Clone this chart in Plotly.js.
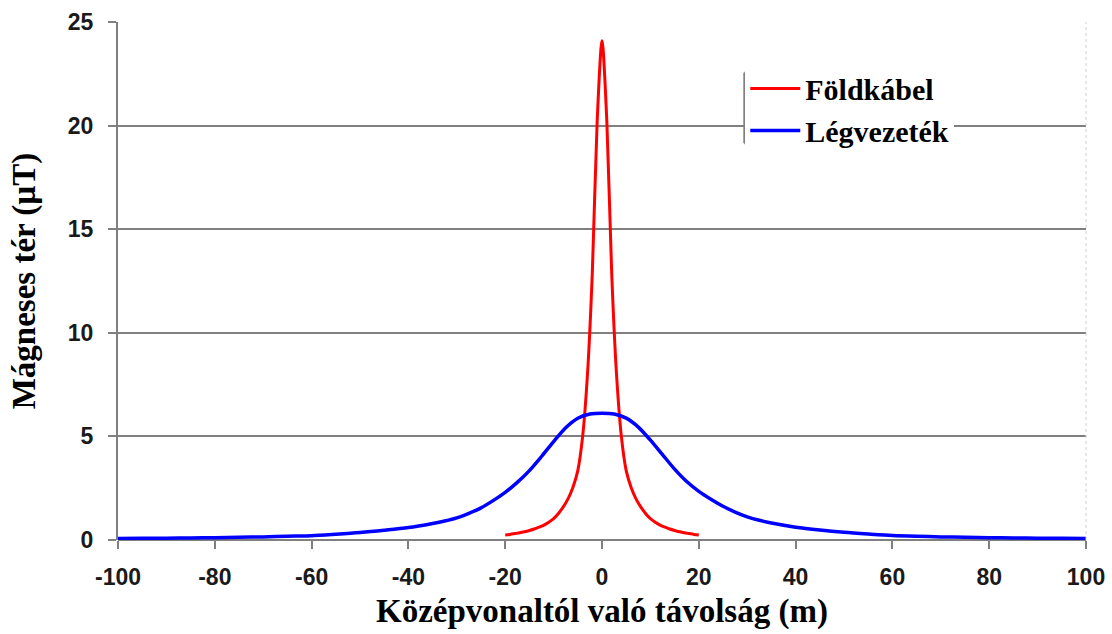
<!DOCTYPE html>
<html>
<head>
<meta charset="utf-8">
<script src="https://cdn.plot.ly/plotly-3.0.1.min.js"></script>
<style>html,body{margin:0;padding:0;background:#fff;}#chart{width:1112px;height:634px;}</style>
</head>
<body>
<div id="chart"></div>
<script>
// Földkábel (underground cable)
const cableX = [-20,-19,-18,-17,-16,-15,-14,-13,-12,-11,-10,-9,-8,-7,-6,-5,-4,-3,-2,-1,0,1,2,3,4,5,6,7,8,9,10,11,12,13,14,15,16,17,18,19,20];
const cableY = [0.24,0.27,0.31,0.35,0.4,0.46,0.53,0.62,0.72,0.86,1.03,1.28,1.6,2.0,2.55,3.35,5.0,8.0,12.9,20.2,24.1,20.2,12.9,8.0,5.0,3.35,2.55,2.0,1.6,1.28,1.03,0.86,0.72,0.62,0.53,0.46,0.4,0.35,0.31,0.27,0.24];
// Légvezeték (overhead line)
const lineX = [-100,-95,-90,-85,-80,-75,-70,-65,-60,-55,-50,-45,-40,-35,-32.5,-30,-27.5,-25,-22.5,-20,-17.5,-15,-12.5,-10,-7.5,-5,-2.5,0,2.5,5,7.5,10,12.5,15,17.5,20,22.5,25,27.5,30,32.5,35,40,45,50,55,60,65,70,75,80,85,90,95,100];
const lineY = [0.07,0.08,0.09,0.1,0.11,0.13,0.15,0.18,0.21,0.28,0.36,0.47,0.6,0.8,0.92,1.07,1.29,1.55,1.9,2.3,2.78,3.35,4.03,4.75,5.42,5.88,6.08,6.12,6.08,5.88,5.45,4.82,4.12,3.42,2.82,2.35,1.97,1.63,1.35,1.12,0.95,0.82,0.62,0.48,0.37,0.29,0.22,0.18,0.15,0.13,0.11,0.1,0.09,0.08,0.07];
const seriesNames = ['Földkábel', 'Légvezeték'];
const xTicks = [-100,-80,-60,-40,-20,0,20,40,60,80,100];
const yTicks = [0,5,10,15,20,25];

const traces = [
  {x: cableX, y: cableY, name: seriesNames[0], type: 'scatter', mode: 'lines',
   line: {color: '#ff0000', width: 3, shape: 'spline', smoothing: 0.8}},
  {x: lineX, y: lineY, name: seriesNames[1], type: 'scatter', mode: 'lines',
   line: {color: '#0000ff', width: 3.5, shape: 'spline', smoothing: 0.8}}
];

const tickFont = {family: '"Liberation Sans", Arial, sans-serif', size: 23, color: '#1a1a1a', weight: 'bold'};
const titleFont = {family: '"Liberation Serif", "Times New Roman", serif', size: 33, color: '#000', weight: 'bold'};

const layout = {
  width: 1112, height: 634,
  margin: {l: 118, r: 26, t: 22, b: 94},
  paper_bgcolor: '#fff', plot_bgcolor: '#fff',
  showlegend: true,
  legend: {
    x: 0.648, y: 0.922, xanchor: 'left', yanchor: 'top',
    bgcolor: '#ffffff', borderwidth: 0,
    font: {family: '"Liberation Serif", "Times New Roman", serif', size: 30, color: '#000', weight: 'bold'},
    itemwidth: 50, tracegroupgap: 0
  },
  xaxis: {
    range: [-100, 100], tickvals: xTicks, ticktext: xTicks.map(String),
    showgrid: false, zeroline: false,
    showline: false, ticks: 'outside', ticklen: 8, tickwidth: 2, tickcolor: '#808080',
    tickfont: tickFont, ticklabelstandoff: 8,
    title: {text: 'Középvonaltól való távolság (m)', font: titleFont, standoff: 10},
    fixedrange: true
  },
  yaxis: {
    range: [0, 25], tickvals: yTicks, ticktext: yTicks.map(String),
    showgrid: true, gridcolor: '#808080', gridwidth: 2,
    zeroline: true, zerolinecolor: '#808080', zerolinewidth: 2,
    showline: true, linecolor: '#808080', linewidth: 2,
    ticks: 'outside', ticklen: 8, tickwidth: 2, tickcolor: '#808080',
    tickfont: tickFont, ticklabelstandoff: 10,
    title: {text: 'Mágneses tér (µT)', font: titleFont, standoff: 22},
    fixedrange: true
  },
  shapes: [
    {type: 'line', xref: 'paper', yref: 'paper', x0: 1, x1: 1, y0: 0, y1: 1,
     line: {color: '#d0d0d0', width: 1, dash: 'dot'}},
    {type: 'line', xref: 'paper', yref: 'paper', x0: 0.647, x1: 0.647, y0: 0.766, y1: 0.902,
     line: {color: '#808080', width: 2}, layer: 'above'},
    {type: 'line', xref: 'paper', yref: 'paper', x0: 0.647, x1: 0.689, y0: 0.902, y1: 0.902,
     line: {color: '#808080', width: 2}, layer: 'above'},
    {type: 'line', xref: 'paper', yref: 'paper', x0: 0.647, x1: 0.689, y0: 0.766, y1: 0.766,
     line: {color: '#808080', width: 2}, layer: 'above'}
  ]
};

Plotly.newPlot('chart', traces, layout, {displayModeBar: false, staticPlot: true});
</script>
</body>
</html>
